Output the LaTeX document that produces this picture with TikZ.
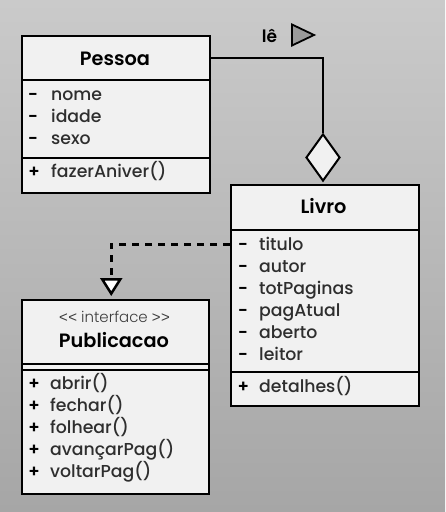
\documentclass[tikz,border=0pt]{standalone}
\usepackage{fontspec}
\setmainfont{Poppins}[UprightFont=* Medium,BoldFont=* SemiBold]
\newfontfamily\stereofont{Poppins}[UprightFont=* Light]
\newfontfamily\tagfont{Liberation Sans}
\usetikzlibrary{arrows.meta,shapes.geometric}
\definecolor{bgtop}{HTML}{CACACA}
\definecolor{bgbot}{HTML}{A6A6A6}
\definecolor{boxfill}{HTML}{F1F1F1}
\definecolor{txt}{HTML}{2E2E2E}
\definecolor{stxt}{HTML}{3C3C3C}
\definecolor{trifill}{HTML}{9A9A9A}
\newcommand{\ltag}{{\tagfont\fontsize{15}{17}\selectfont<\kern0.5pt<}}
\newcommand{\rtag}{{\tagfont\fontsize{15}{17}\selectfont>\kern0.5pt>}}
\begin{document}
\begin{tikzpicture}[x=1pt,y=-1pt,
  comp/.style={draw=black,line width=2pt,fill=boxfill,inner sep=0pt,anchor=north west},
  attr/.style={anchor=base west,inner sep=0pt,text=txt,font=\fontsize{17.3}{19}\selectfont},
  sym/.style={anchor=base,inner sep=0pt,text=black,font=\fontsize{17}{19}\selectfont\bfseries},
  ctitle/.style={anchor=base,inner sep=0pt,text=black,font=\fontsize{19.3}{22}\selectfont\bfseries},
  stereo/.style={anchor=base,inner sep=0pt,text=stxt,font=\fontsize{15}{17}\stereofont},
  conn/.style={draw=black,line width=2pt},
  dep/.style={draw=black,line width=3pt,dash pattern=on 7pt off 6pt,
    -{Triangle[width=22pt,length=18pt,fill=white,line width=2.5pt]}}]
\useasboundingbox (0,0) rectangle (445,512);
\shade[top color=bgtop,bottom color=bgbot] (0,0) rectangle (445,512);

% Pessoa
\node[comp,minimum width=188.5pt,minimum height=44.5pt] (pT) at (20.5,34.5) {};
\node[comp,minimum width=188.5pt,minimum height=78pt] (pA) at (20.5,79) {};
\node[comp,minimum width=188.5pt,minimum height=34.5pt] (pM) at (20.5,157) {};
\node[ctitle] (pTt) at (115,65.7) {Pessoa};
\node[sym] (pa1s) at (33,100.7) {-};
\node[attr] (pa1) at (51,100.7) {nome};
\node[sym] (pa2s) at (33,122.7) {-};
\node[attr] (pa2) at (51,122.7) {idade};
\node[sym] (pa3s) at (33,144.7) {-};
\node[attr] (pa3) at (51,144.7) {sexo};
\node[sym] (pm1s) at (34,177.3) {+};
\node[attr] (pm1) at (51,177.3) {fazerAniver()};

% Livro
\node[comp,minimum width=188pt,minimum height=45.5pt] (lT) at (230,183.5) {};
\node[comp,minimum width=188pt,minimum height=142pt] (lA) at (230,229) {};
\node[comp,minimum width=188pt,minimum height=34pt] (lM) at (230,371) {};
\node[ctitle] (lTt) at (323.5,213.3) {Livro};
\node[sym] (la1s) at (243,250) {-};
\node[attr] (la1) at (259,250) {titulo};
\node[sym] (la2s) at (243,272) {-};
\node[attr] (la2) at (259,272) {autor};
\node[sym] (la3s) at (243,294) {-};
\node[attr] (la3) at (259,294) {totPaginas};
\node[sym] (la4s) at (243,316) {-};
\node[attr] (la4) at (259,316) {pagAtual};
\node[sym] (la5s) at (243,338) {-};
\node[attr] (la5) at (259,338) {aberto};
\node[sym] (la6s) at (243,360) {-};
\node[attr] (la6) at (259,360) {leitor};
\node[sym] (lm1s) at (243.3,392.3) {+};
\node[attr] (lm1) at (259,392.3) {detalhes()};

% Publicacao
\node[comp,minimum width=187.5pt,minimum height=64pt] (uT) at (20.5,299) {};
\node[comp,minimum width=187.5pt,minimum height=6pt] (uA) at (20.5,363) {};
\node[comp,minimum width=187.5pt,minimum height=124pt] (uM) at (20.5,369) {};
\node[stereo] (uSt) at (114.5,322.7) {\ltag{} interface \rtag};
\node[ctitle] (uTt) at (114,347.7) {Publicacao};
\node[sym] (um1s) at (34,389) {+};
\node[attr] (um1) at (50,389) {abrir()};
\node[sym] (um2s) at (34,411) {+};
\node[attr] (um2) at (50,411) {fechar()};
\node[sym] (um3s) at (34,433) {+};
\node[attr] (um3) at (50,433) {folhear()};
\node[sym] (um4s) at (34,455) {+};
\node[attr] (um4) at (50,455) {avançarPag()};
\node[sym] (um5s) at (34,477) {+};
\node[attr] (um5) at (50,477) {voltarPag()};

% aggregation
\node[diamond,draw=black,line width=2pt,fill=boxfill,minimum width=34pt,minimum height=47pt,inner sep=0pt] (dia) at (323,157.5) {};
\draw[conn] (pT.east) -| (dia.north);
\node[anchor=base west,inner sep=0pt,text=black,font=\fontsize{17}{19}\selectfont\bfseries] (le) at (261.7,42.3) {lê};
\draw[black,line width=1.8pt,fill=trifill,line join=miter] (292,24.5) -- (292,45.5) -- (314,35) -- cycle;

% realization
\draw[dep] ([yshift=-13pt]lT.south west) -| ([xshift=-4pt,yshift=3pt]uT.north);
\end{tikzpicture}
\end{document}
